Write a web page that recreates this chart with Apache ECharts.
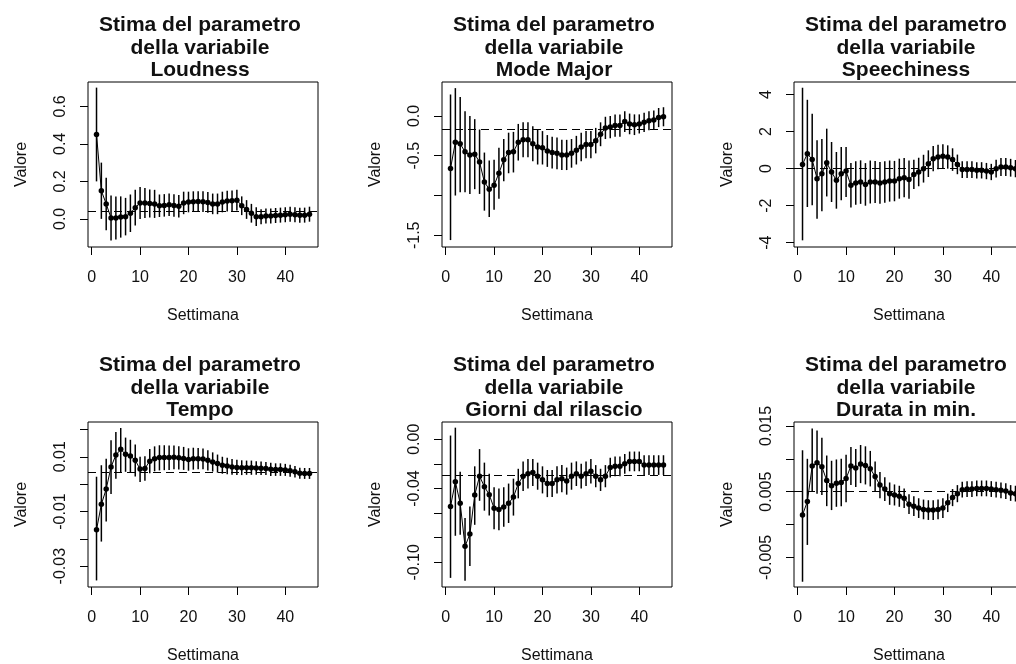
<!DOCTYPE html>
<html>
<head>
<meta charset="utf-8">
<script src="https://cdn.jsdelivr.net/npm/echarts@6/dist/echarts.min.js"></script>
<style>
html, body { margin: 0; padding: 0; background: #fff; }
#grafico { width: 1016px; height: 664px; }
</style>
</head>
<body>
<div id="grafico"></div>
<script>
// settimane (asse x comune)
var settimane = [1,2,3,4,5,6,7,8,9,10,11,12,13,14,15,16,17,18,19,20,21,22,23,24,25,26,27,28,29,30,31,32,33,34,35,36,37,38,39,40,41,42,43,44,45];
var xTicks = [0, 10, 20, 30, 40];

// Loudness
var loudStima = [0.45,0.15,0.08,0.005,0.005,0.01,0.012,0.03,0.06,0.085,0.085,0.082,0.08,0.07,0.072,0.075,0.072,0.068,0.085,0.09,0.092,0.093,0.092,0.088,0.08,0.08,0.09,0.095,0.097,0.1,0.07,0.05,0.03,0.012,0.012,0.015,0.016,0.018,0.02,0.022,0.025,0.022,0.02,0.02,0.025];
var loudInf = [0.20,0.00,-0.06,-0.115,-0.11,-0.10,-0.088,-0.07,-0.035,0.0,0.005,0.007,0.005,0.01,0.012,0.015,0.012,0.008,0.025,0.035,0.037,0.038,0.037,0.033,0.025,0.025,0.035,0.04,0.042,0.045,0.02,0.0,-0.02,-0.038,-0.028,-0.025,-0.024,-0.022,-0.02,-0.018,-0.015,-0.018,-0.02,-0.02,-0.015];
var loudSup = [0.70,0.30,0.22,0.125,0.12,0.12,0.112,0.13,0.155,0.17,0.165,0.157,0.155,0.13,0.132,0.135,0.132,0.128,0.145,0.145,0.147,0.148,0.147,0.143,0.135,0.135,0.145,0.15,0.152,0.155,0.12,0.10,0.08,0.062,0.052,0.055,0.056,0.058,0.06,0.062,0.065,0.062,0.06,0.06,0.065];
var loudTicks = [0, 0.2, 0.4, 0.6];
var loudLabels = [0, 0.2, 0.4, 0.6];

// Mode Major
var modeStima = [-0.66,-0.33,-0.35,-0.45,-0.49,-0.48,-0.58,-0.83,-0.92,-0.87,-0.72,-0.55,-0.46,-0.45,-0.33,-0.30,-0.30,-0.35,-0.39,-0.40,-0.44,-0.46,-0.47,-0.49,-0.49,-0.47,-0.43,-0.39,-0.36,-0.36,-0.31,-0.23,-0.15,-0.14,-0.12,-0.12,-0.07,-0.10,-0.11,-0.10,-0.08,-0.06,-0.05,-0.02,-0.01];
var modeInf = [-1.56,-1.0,-0.96,-0.96,-0.98,-0.92,-0.98,-1.19,-1.27,-1.18,-1.04,-0.82,-0.72,-0.71,-0.56,-0.52,-0.52,-0.57,-0.61,-0.61,-0.64,-0.66,-0.67,-0.68,-0.68,-0.65,-0.61,-0.57,-0.53,-0.53,-0.47,-0.38,-0.29,-0.28,-0.26,-0.26,-0.20,-0.23,-0.24,-0.22,-0.20,-0.18,-0.17,-0.14,-0.13];
var modeSup = [0.27,0.35,0.24,0.06,0.0,-0.04,-0.17,-0.46,-0.56,-0.55,-0.40,-0.29,-0.21,-0.20,-0.10,-0.08,-0.08,-0.13,-0.17,-0.19,-0.24,-0.26,-0.27,-0.30,-0.30,-0.29,-0.25,-0.21,-0.19,-0.19,-0.15,-0.08,-0.01,0.0,0.02,0.02,0.06,0.03,0.02,0.02,0.04,0.06,0.07,0.10,0.11];
var modeTicks = [-1.5, -1.0, -0.5, 0.0];
var modeLabels = [-1.5, -0.5, 0.0];

// Speechiness
var speechStima = [0.23,0.81,0.49,-0.54,-0.27,0.32,-0.18,-0.63,-0.27,-0.13,-0.90,-0.77,-0.72,-0.85,-0.72,-0.72,-0.77,-0.72,-0.67,-0.67,-0.54,-0.49,-0.59,-0.31,-0.18,0.0,0.27,0.54,0.63,0.67,0.63,0.49,0.23,-0.05,-0.05,-0.05,-0.09,-0.09,-0.13,-0.18,0.0,0.09,0.09,0.05,0.0];
var speechInf = [-3.87,-2.07,-1.98,-2.70,-2.30,-1.50,-1.80,-2.16,-1.70,-1.53,-2.10,-1.95,-1.90,-2.00,-1.88,-1.86,-1.90,-1.84,-1.78,-1.76,-1.62,-1.55,-1.62,-1.10,-0.95,-0.75,-0.45,-0.14,-0.03,0.02,0.0,-0.12,-0.30,-0.50,-0.50,-0.50,-0.53,-0.53,-0.57,-0.62,-0.48,-0.40,-0.40,-0.43,-0.47];
var speechSup = [4.37,3.72,2.97,1.53,1.60,2.16,1.44,0.90,1.17,1.17,0.30,0.40,0.45,0.30,0.44,0.42,0.36,0.40,0.44,0.42,0.54,0.57,0.44,0.48,0.59,0.75,0.99,1.22,1.29,1.32,1.26,1.10,0.76,0.40,0.40,0.40,0.35,0.35,0.31,0.26,0.48,0.58,0.58,0.53,0.47];
var speechTicks = [-4, -2, 0, 2, 4];
var speechLabels = [-4, -2, 0, 2, 4];

// Tempo
var tempoStima = [-0.0167,-0.0074,-0.0018,0.0063,0.0106,0.0127,0.0109,0.0103,0.0087,0.0055,0.0057,0.0084,0.0093,0.0097,0.0097,0.0097,0.0098,0.0096,0.0094,0.0090,0.0093,0.0093,0.0092,0.0087,0.0081,0.0075,0.0069,0.0066,0.0063,0.0061,0.0060,0.0060,0.0060,0.0059,0.0058,0.0057,0.0054,0.0053,0.0053,0.0052,0.0049,0.0045,0.0040,0.0039,0.0039];
var tempoInf = [-0.0352,-0.021,-0.0137,-0.0036,0.002,0.0042,0.0045,0.0042,0.0028,0.0008,0.0012,0.0040,0.0047,0.0050,0.0051,0.0052,0.0054,0.0053,0.0052,0.0049,0.0053,0.0054,0.0054,0.0050,0.0046,0.0042,0.0038,0.0036,0.0034,0.0033,0.0033,0.0034,0.0034,0.0034,0.0033,0.0033,0.0030,0.0030,0.0030,0.0030,0.0027,0.0024,0.0020,0.0019,0.0019];
var tempoSup = [0.0027,0.0069,0.0093,0.016,0.019,0.0205,0.0170,0.0162,0.0145,0.0100,0.0102,0.0128,0.0138,0.0142,0.0142,0.0141,0.0141,0.0138,0.0136,0.0131,0.0133,0.0132,0.0130,0.0124,0.0116,0.0108,0.0100,0.0096,0.0092,0.0089,0.0087,0.0086,0.0086,0.0084,0.0083,0.0081,0.0078,0.0076,0.0076,0.0074,0.0071,0.0066,0.0060,0.0059,0.0059];
var tempoTicks = [-0.03, -0.02, -0.01, 0, 0.01, 0.02];
var tempoLabels = [-0.03, -0.01, 0.01];

// Giorni dal rilascio
var giorniStima = [-0.0547,-0.0345,-0.052,-0.087,-0.077,-0.0453,-0.030,-0.0385,-0.045,-0.056,-0.057,-0.055,-0.052,-0.047,-0.036,-0.030,-0.028,-0.027,-0.030,-0.033,-0.036,-0.036,-0.033,-0.032,-0.034,-0.030,-0.028,-0.030,-0.028,-0.026,-0.030,-0.033,-0.030,-0.023,-0.022,-0.022,-0.020,-0.018,-0.018,-0.018,-0.021,-0.021,-0.021,-0.021,-0.021];
var giorniInf = [-0.1126,-0.0784,-0.0776,-0.115,-0.103,-0.0695,-0.050,-0.058,-0.062,-0.073,-0.074,-0.071,-0.068,-0.062,-0.048,-0.042,-0.040,-0.038,-0.041,-0.044,-0.047,-0.047,-0.044,-0.043,-0.045,-0.041,-0.038,-0.040,-0.038,-0.036,-0.039,-0.042,-0.039,-0.031,-0.030,-0.030,-0.028,-0.026,-0.026,-0.026,-0.029,-0.029,-0.029,-0.029,-0.029];
var giorniSup = [0.003,0.0094,-0.0264,-0.064,-0.0547,-0.022,-0.008,-0.019,-0.028,-0.039,-0.040,-0.039,-0.036,-0.032,-0.024,-0.018,-0.016,-0.016,-0.019,-0.022,-0.025,-0.025,-0.022,-0.021,-0.023,-0.019,-0.018,-0.020,-0.018,-0.016,-0.021,-0.024,-0.021,-0.015,-0.014,-0.014,-0.012,-0.010,-0.010,-0.010,-0.013,-0.013,-0.013,-0.013,-0.013];
var giorniTicks = [-0.10, -0.08, -0.06, -0.04, -0.02, 0.00];
var giorniLabels = [-0.10, -0.04, 0.00];

// Durata in min.
var durataStima = [0.00146,0.0035,0.0089,0.0094,0.0088,0.0067,0.0059,0.0063,0.0064,0.0070,0.0089,0.0086,0.0092,0.0090,0.0085,0.0073,0.0060,0.0054,0.0047,0.0045,0.0043,0.0040,0.0031,0.0028,0.0025,0.0023,0.0022,0.0022,0.0023,0.0025,0.0033,0.0041,0.0047,0.0053,0.0054,0.0054,0.0055,0.0055,0.0055,0.0054,0.0053,0.0052,0.0051,0.0048,0.0047];
var durataInf = [-0.0087,-0.0031,0.0050,0.0047,0.0045,0.0028,0.0022,0.0027,0.0028,0.0034,0.0060,0.0057,0.0063,0.0061,0.0058,0.0050,0.0040,0.0036,0.0030,0.0029,0.0027,0.0025,0.0016,0.0013,0.0010,0.0008,0.0007,0.0007,0.0008,0.0010,0.0019,0.0028,0.0034,0.0041,0.0042,0.0042,0.0043,0.0043,0.0043,0.0042,0.0041,0.0040,0.0039,0.0036,0.0035];
var durataSup = [0.0113,0.0100,0.0146,0.0143,0.0132,0.0105,0.0097,0.0099,0.0100,0.0106,0.0118,0.0115,0.0121,0.0119,0.0112,0.0096,0.0080,0.0072,0.0064,0.0061,0.0059,0.0055,0.0046,0.0043,0.0040,0.0038,0.0037,0.0037,0.0038,0.0040,0.0047,0.0054,0.0060,0.0065,0.0066,0.0066,0.0067,0.0067,0.0067,0.0066,0.0065,0.0064,0.0063,0.0060,0.0059];
var durataTicks = [-0.005, 0, 0.005, 0.01, 0.015];
var durataLabels = [-0.005, 0.005, 0.015];

var FONT = 'Liberation Sans, Arial, sans-serif';

// un pannello per variabile: dati + posizione del riquadro
var pannelli = [
	{ nome: 'Loudness', stima: loudStima, inf: loudInf, sup: loudSup, rif: 0.04, ticks: loudTicks, etichette: loudLabels, dec: 1, ymin: -0.15, ymax: 0.73, left: 88, top: 82 },
	{ nome: 'Mode Major', stima: modeStima, inf: modeInf, sup: modeSup, rif: -0.167, ticks: modeTicks, etichette: modeLabels, dec: 1, ymin: -1.647, ymax: 0.427, left: 442, top: 82 },
	{ nome: 'Speechiness', stima: speechStima, inf: speechInf, sup: speechSup, rif: 0.0, ticks: speechTicks, etichette: speechLabels, dec: 0, ymin: -4.23, ymax: 4.68, left: 794, top: 82 },
	{ nome: 'Tempo', stima: tempoStima, inf: tempoInf, sup: tempoSup, rif: 0.0042, ticks: tempoTicks, etichette: tempoLabels, dec: 2, ymin: -0.0376, ymax: 0.0227, left: 88, top: 422 },
	{ nome: 'Giorni dal rilascio', stima: giorniStima, inf: giorniInf, sup: giorniSup, rif: -0.029, ticks: giorniTicks, etichette: giorniLabels, dec: 2, ymin: -0.12, ymax: 0.014, left: 442, top: 422 },
	{ nome: 'Durata in min.', stima: durataStima, inf: durataInf, sup: durataSup, rif: 0.005, ticks: durataTicks, etichette: durataLabels, dec: 3, ymin: -0.0095, ymax: 0.0156, left: 794, top: 422 }
];

var W = 230, H = 165;

// segmento verticale dell'intervallo
function barraErrore(params, api) {
	var a = api.coord([api.value(0), api.value(1)]);
	var b = api.coord([api.value(0), api.value(2)]);
	return {
		type: 'line',
		shape: { x1: a[0], y1: a[1], x2: b[0], y2: b[1] },
		style: { stroke: '#000', lineWidth: 1.5 }
	};
}

var option = { animation: false, backgroundColor: '#fff', title: [], grid: [], xAxis: [], yAxis: [], series: [] };

pannelli.forEach(function (p, k) {
	option.title.push({
		text: 'Stima del parametro\ndella variabile\n' + p.nome,
		left: p.left + W / 2 - 8,
		top: p.top - 73,
		textAlign: 'center',
		textStyle: { fontFamily: FONT, fontSize: 21, fontWeight: 'bold', lineHeight: 22.5, color: '#111' }
	});
	option.grid.push({
		left: p.left, top: p.top, width: W, height: H,
		outerBoundsMode: 'none',
		show: true, borderColor: '#000', borderWidth: 1, backgroundColor: 'transparent'
	});
	option.xAxis.push({
		type: 'value', gridIndex: k, min: -0.76, max: 46.76,
		name: 'Settimana', nameLocation: 'middle', nameGap: 61,
		nameTextStyle: { fontFamily: FONT, fontSize: 16, color: '#111' },
		axisLine: { show: false, onZero: false },
		splitLine: { show: false },
		axisTick: { show: true, length: 8, customValues: xTicks, lineStyle: { color: '#000' } },
		axisLabel: { customValues: xTicks, margin: 23, fontFamily: FONT, fontSize: 16, color: '#111' }
	});
	var dec = p.dec;
	option.yAxis.push({
		type: 'value', gridIndex: k, min: p.ymin, max: p.ymax,
		name: 'Valore', nameLocation: 'middle', nameGap: 58,
		nameTextStyle: { fontFamily: FONT, fontSize: 16, color: '#111' },
		axisLine: { show: false, onZero: false },
		splitLine: { show: false },
		axisTick: { show: true, length: 8, customValues: p.ticks, lineStyle: { color: '#000' } },
		axisLabel: {
			customValues: p.etichette, rotate: 90, margin: 19,
			fontFamily: FONT, fontSize: 16, color: '#111',
			formatter: function (v) { return Number(v).toFixed(dec); }
		}
	});
	option.series.push({
		type: 'custom', xAxisIndex: k, yAxisIndex: k,
		renderItem: barraErrore,
		encode: { x: 0, y: [1, 2] },
		data: settimane.map(function (s, i) { return [s, p.inf[i], p.sup[i]]; }),
		silent: true, z: 2
	});
	option.series.push({
		type: 'line', xAxisIndex: k, yAxisIndex: k,
		data: settimane.map(function (s, i) { return [s, p.stima[i]]; }),
		symbol: 'circle', symbolSize: 5.5, showSymbol: true,
		itemStyle: { color: '#000' },
		lineStyle: { color: '#000', width: 1 },
		silent: true, z: 3,
		markLine: {
			silent: true, symbol: 'none', label: { show: false }, precision: 6,
			lineStyle: { color: '#000', width: 1, type: [8, 5] },
			data: [{ yAxis: p.rif }]
		}
	});
});

var grafico = echarts.init(document.getElementById('grafico'));
grafico.setOption(option);
</script>
</body>
</html>
